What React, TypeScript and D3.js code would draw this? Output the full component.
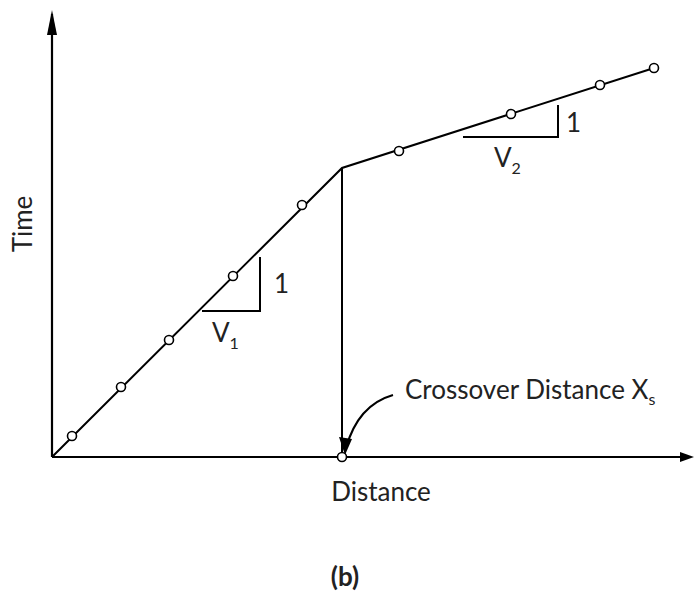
import React from "react";
import * as d3 from "d3";

// Travel-time curve: direct wave then refracted (head) wave
const distances = [2.0, 6.9, 11.7, 18.1, 25.0, 34.7, 45.9, 54.8, 60.2];
const times = [2.1, 7.0, 11.7, 18.1, 25.2, 30.6, 34.3, 37.2, 38.9];
const lineDistances = [0, 29.0, 60.2];
const lineTimes = [0, 28.9, 38.9];
const crossoverDistance = 29.0;
const crossoverTime = 28.9;

const W = 694;
const H = 601;
const FONT = "Lato, 'Open Sans', sans-serif";
const FS = 26;
const SUB = 16;

export default function App() {
  const x = d3.scaleLinear().domain([0, 64]).range([52, 692]);
  const y = d3.scaleLinear().domain([0, 44.7]).range([457, 10]);

  const line = d3
    .line<number>()
    .x((_, i) => x(lineDistances[i]))
    .y((d) => y(d));

  const x0 = x(0);
  const y0 = y(0);

  return (
    <svg
      width={W}
      height={H}
      viewBox={`0 0 ${W} ${H}`}
      style={{ position: "absolute", left: 0, top: 0, background: "#fff" }}
      fontFamily={FONT}
    >
      {/* axes */}
      <line x1={x0} y1={y0} x2={x0} y2={14} stroke="#000" strokeWidth={2.2} />
      <path d={`M${x0 - 5},35 L${x0},10 L${x0 + 5},35 Z`} fill="#000" />
      <line x1={x0} y1={y0} x2={688} y2={y0} stroke="#000" strokeWidth={2.2} />
      <path d={`M680,${y0 - 5} L694,${y0} L680,${y0 + 5} Z`} fill="#000" />

      {/* travel-time branches */}
      <path d={line(lineTimes) || ""} fill="none" stroke="#000" strokeWidth={2} />
      <line
        x1={x(crossoverDistance)}
        y1={y(crossoverTime)}
        x2={x(crossoverDistance)}
        y2={y0}
        stroke="#000"
        strokeWidth={2}
      />

      {/* slope triangles */}
      <path d="M202,311 L260,311 L260,257" fill="none" stroke="#000" strokeWidth={2} />
      <path d="M463,137 L558,137 L558,105" fill="none" stroke="#000" strokeWidth={2} />
      <text x={274} y={293} fontSize={FS} fill="#222">1</text>
      <text x={566} y={132} fontSize={FS} fill="#222">1</text>
      <text x={212} y={342} fontSize={FS} fill="#222">
        V<tspan fontSize={SUB} dy={7}>1</tspan>
      </text>
      <text x={494} y={167} fontSize={FS} fill="#222">
        V<tspan fontSize={SUB} dy={7}>2</tspan>
      </text>

      {/* crossover annotation */}
      <path d="M393,395 Q358,405 346,448" fill="none" stroke="#000" strokeWidth={2.2} />
      <path d="M339,437 L345,455 L352,439 Z" fill="#000" />
      <text x={405} y={399} fontSize={FS} fill="#222">
        Crossover Distance X<tspan fontSize={SUB} dy={6}>s</tspan>
      </text>

      {/* observed arrivals */}
      {distances.map((d, i) => (
        <circle key={i} cx={x(d)} cy={y(times[i])} r={4.5} fill="#fff" stroke="#000" strokeWidth={1.6} />
      ))}
      <circle cx={x(crossoverDistance)} cy={y0} r={4.5} fill="#fff" stroke="#000" strokeWidth={1.6} />

      {/* axis titles */}
      <text x={381} y={501} fontSize={FS} textAnchor="middle" fill="#222">Distance</text>
      <text transform="translate(32,224) rotate(-90)" fontSize={FS} textAnchor="middle" fill="#222">Time</text>
      <text x={345} y={586} fontSize={FS} fontWeight="bold" textAnchor="middle" fill="#222">(b)</text>
    </svg>
  );
}
